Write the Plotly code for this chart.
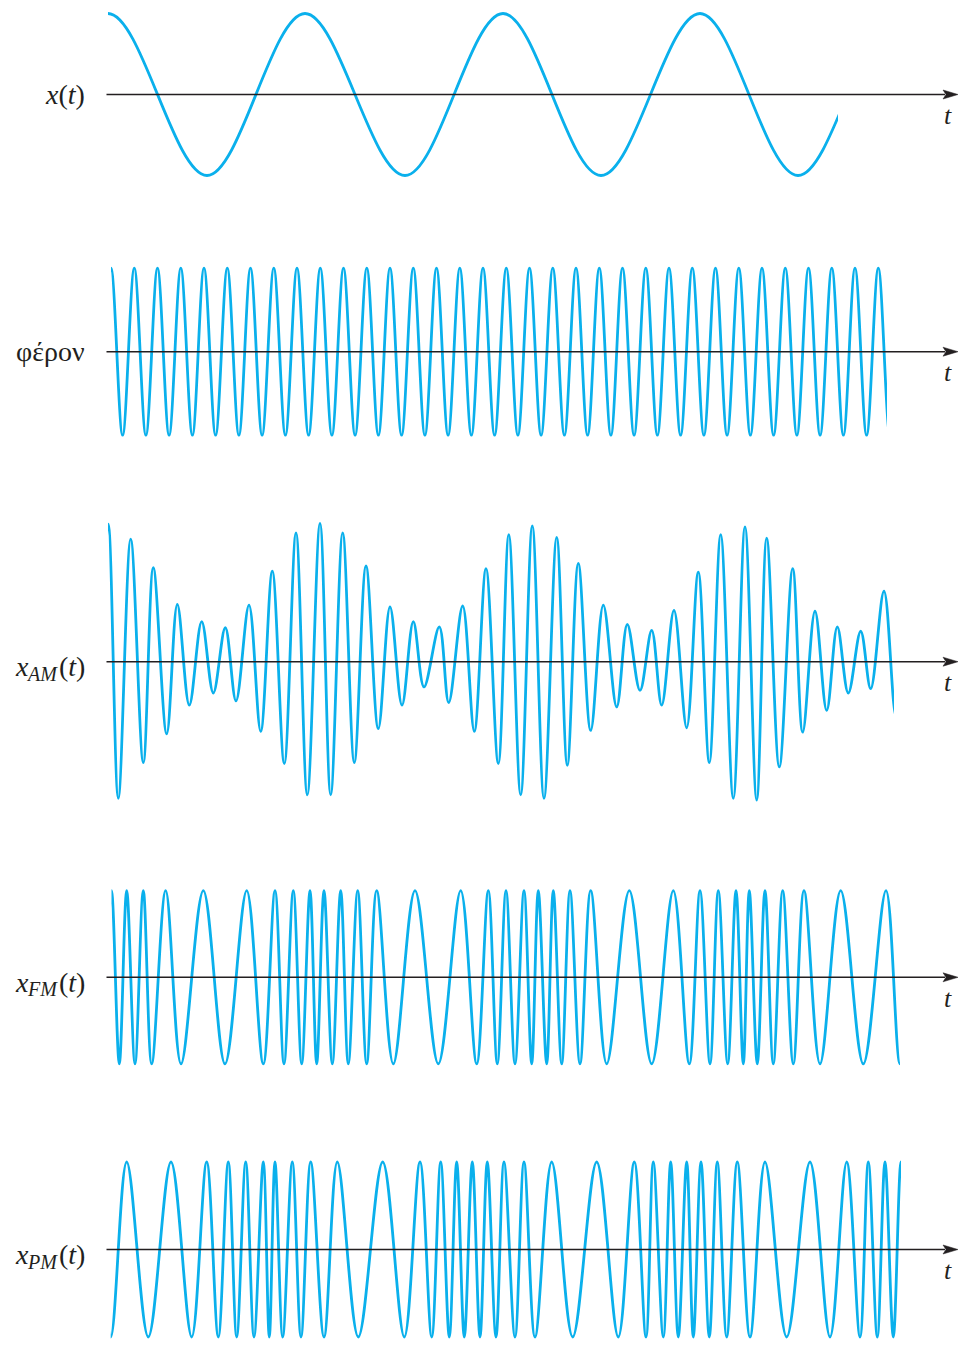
import plotly.graph_objects as go

# ---------------- data ----------------
# time t in arbitrary units (t = 0 where x(t) starts); amplitudes normalised
# each signal is given by its extrema (peak / trough times and values);
# extrema beyond each end let the curve leave its window with the right slope

# message x(t)
msg_peak_t = [0, 197, 395, 592, 789]
msg_trough_t = [-99, 99, 297, 493, 690, 887]
msg_window = [0, 730]

# carrier (φέρον)
car_peak_t = [3, 26.3, 49.5, 72.8, 96, 119.3, 142.5, 165.8, 189, 212.3, 235.5, 258.8,
              282, 305.3, 328.5, 351.8, 375, 398.3, 421.5, 444.8, 468, 491.3, 514.5,
              537.8, 561, 584.3, 607.5, 630.8, 654, 677.3, 700.5, 723.8, 747, 770.3, 793.5]
car_trough_t = [-8.6, 14.6, 37.9, 61.1, 84.4, 107.6, 130.9, 154.1, 177.4, 200.6, 223.9,
                247.1, 270.4, 293.6, 316.9, 340.1, 363.4, 386.6, 409.9, 433.1, 456.4,
                479.6, 502.9, 526.1, 549.4, 572.6, 595.9, 619.1, 642.4, 665.6, 688.9,
                712.1, 735.4, 758.6, 781.9, 805.1]
car_window = [3, 779]

# AM signal
am_peak_t = [0.3, 22.7, 45.3, 69.3, 93.7, 117.3, 141, 164.3, 188, 212, 234.7, 258, 282,
             305.3, 331.3, 354.7, 378, 400.8, 424.3, 448.7, 470.3, 495.3, 519.3, 543.7,
             566, 590.3, 612.7, 637, 658.7, 684.7, 707, 729.3, 752.7, 776, 800]
am_peak_v = [1.58, 1.41, 1.08, 0.66, 0.46, 0.39, 0.65, 1.04, 1.48, 1.59, 1.48, 1.10, 0.63,
             0.46, 0.40, 0.64, 1.07, 1.46, 1.56, 1.43, 1.13, 0.65, 0.43, 0.36, 0.59, 1.03,
             1.46, 1.55, 1.42, 1.07, 0.58, 0.40, 0.35, 0.81, 0.95]
am_trough_t = [-11.5, 10.3, 35.3, 58.7, 81.3, 105.3, 128, 152.7, 176.3, 199.3, 222.7, 246.3,
               270.3, 294, 316, 340.7, 366.3, 390.3, 412.7, 436, 459.3, 482.7, 508.7, 532,
               553.7, 578.7, 601.3, 625.3, 648.7, 671.3, 694.7, 718.7, 740.3, 762.7, 788]
am_trough_v = [-1.55, -1.57, -1.16, -0.83, -0.50, -0.36, -0.45, -0.80, -1.17, -1.53, -1.53,
               -1.16, -0.77, -0.50, -0.29, -0.47, -0.80, -1.17, -1.53, -1.57, -1.19, -0.79,
               -0.52, -0.33, -0.50, -0.76, -1.16, -1.57, -1.59, -1.21, -0.81, -0.56, -0.36,
               -0.31, -0.63]
am_window = [0, 786]

# FM signal
fm_peak_t = [3.5, 18.7, 35.3, 57.7, 95.3, 138.7, 167, 185.3, 202, 216, 232.7, 249.7, 268.7,
             307, 352.7, 380.3, 398, 416, 430.3, 445.3, 462, 482.7, 521.3, 565.3, 592,
             610.3, 628, 641.3, 657, 674.7, 696, 732.7, 778, 806]
fm_trough_t = [-4, 11.3, 27, 43.7, 73, 117, 155.3, 176, 193.7, 208.7, 224.3, 240.3, 258.7,
               285.3, 330.3, 368.7, 389.3, 407, 423.7, 438.7, 453.7, 472, 498.7, 543.7,
               581.3, 602, 619.7, 635.3, 649.3, 665.3, 685.3, 712, 755.3, 792, 820]
fm_window = [3.5, 792]

# PM signal
pm_peak_t = [-12, 18.7, 63, 98.7, 120.3, 137.7, 155.3, 167, 184.3, 202.7, 229.3, 274.7, 312,
             332.7, 348.7, 364.3, 379.3, 396, 416, 443.7, 488.7, 526.3, 545.3, 562.7,
             578.7, 593, 609.3, 629.3, 657, 702, 738.7, 760.3, 777, 793, 809]
pm_trough_t = [2.7, 40.3, 83.7, 110.3, 128.7, 146, 161.3, 174.7, 193, 216, 250.3, 296.3,
               323.7, 341.3, 356.3, 372, 388, 407, 427, 464.7, 510.3, 538, 555.3, 570.3,
               585.3, 601.3, 618.7, 642, 678.7, 722, 752, 769.3, 785.3, 801]
pm_window = [2.7, 793]

# panel labels: (main symbol, subscript, argument)
label_main = ["<i>x</i>(<i>t</i>)", "φέρον", "<i>x</i>", "<i>x</i>", "<i>x</i>"]
label_sub = [None, None, "<i>AM</i>", "<i>FM</i>", "<i>PM</i>"]
label_arg = "(<i>t</i>)"
time_label = "<i>t</i>"


def merge(pt, pv, tt, tv):
    pts = sorted(list(zip(pt, pv)) + list(zip(tt, tv)))
    return [p[0] for p in pts], [p[1] for p in pts]


series = [
    (merge(msg_peak_t, [1] * len(msg_peak_t), msg_trough_t, [-1] * len(msg_trough_t)), msg_window),
    (merge(car_peak_t, [1] * len(car_peak_t), car_trough_t, [-1] * len(car_trough_t)), car_window),
    (merge(am_peak_t, am_peak_v, am_trough_t, am_trough_v), am_window),
    (merge(fm_peak_t, [1] * len(fm_peak_t), fm_trough_t, [-1] * len(fm_trough_t)), fm_window),
    (merge(pm_peak_t, [1] * len(pm_peak_t), pm_trough_t, [-1] * len(pm_trough_t)), pm_window),
]

# ---------------- layout constants (pixels) ----------------
W, H = 961, 1347
X0 = 108            # pixel of t = 0
PX_PER_T = 1.0
centers = [94.5, 351.7, 661.7, 977.3, 1249.5]
scales = [81, 83.5, 87, 86.6, 87.5]     # px per unit amplitude
AXIS_START, AXIS_END = 106.5, 958
HEAD_LEN, HEAD_HALF = 15, 4.5
LABEL_RIGHT = 87
SUB_RIGHT = 60
MAIN_RIGHT = 31
LABEL_SIZE, SUB_SIZE, T_SIZE = 28, 20, 26
SUB_DY_MAIN, SUB_DY_SUB = 5, 12
T_LABEL_X, T_LABEL_DY = 948, 21
BLUE = "#0AB0EC"
INK = "#231F20"
FONT = "Liberation Serif"


def fx(px):
    return px / W


def fy(py):
    return 1 - py / H


def text(xp, yp, txt, size, anchor="right"):
    return dict(xref="paper", yref="paper", x=fx(xp), y=fy(yp), xanchor=anchor,
                yanchor="middle", text=txt, showarrow=False,
                font=dict(family=FONT, size=size, color=INK))


fig = go.Figure()
shapes, annotations = [], []
layout_axes = {}

for k, (((ts, vs), win), yc, s, main, sub) in enumerate(
        zip(series, centers, scales, label_main, label_sub), start=1):
    sfx = "" if k == 1 else str(k)
    half = min(150, yc - 0.5, H - yc - 0.5)
    x0p = X0 + win[0] * PX_PER_T
    x1p = X0 + win[1] * PX_PER_T
    layout_axes["xaxis" + sfx] = dict(domain=[fx(x0p), fx(x1p)], range=list(win),
                                      visible=False, fixedrange=True,
                                      anchor="y" + sfx)
    layout_axes["yaxis" + sfx] = dict(domain=[fy(yc + half), fy(yc - half)],
                                      range=[-half / s, half / s], visible=False,
                                      fixedrange=True, anchor="x" + sfx)
    fig.add_trace(go.Scatter(x=ts, y=vs, mode="lines", xaxis="x" + sfx, yaxis="y" + sfx,
                             line=dict(color=BLUE, width=2.8, shape="spline", smoothing=1),
                             hoverinfo="skip", showlegend=False))
    # time axis with arrow
    shapes.append(dict(type="line", xref="paper", yref="paper",
                       x0=fx(AXIS_START), x1=fx(AXIS_END - HEAD_LEN + 2),
                       y0=fy(yc), y1=fy(yc), line=dict(color=INK, width=1.5)))
    shapes.append(dict(type="path", xref="paper", yref="paper",
                       path=f"M {fx(AXIS_END)} {fy(yc)} L {fx(AXIS_END - HEAD_LEN)} {fy(yc - HEAD_HALF)} "
                            f"L {fx(AXIS_END - HEAD_LEN + 3)} {fy(yc)} "
                            f"L {fx(AXIS_END - HEAD_LEN)} {fy(yc + HEAD_HALF)} Z",
                       fillcolor=INK, line=dict(color=INK, width=0.5)))
    if sub is None:
        annotations.append(text(LABEL_RIGHT, yc, main, LABEL_SIZE))
    else:
        annotations.append(text(LABEL_RIGHT, yc + SUB_DY_MAIN, label_arg, LABEL_SIZE))
        annotations.append(text(SUB_RIGHT, yc + SUB_DY_SUB, sub, SUB_SIZE))
        annotations.append(text(MAIN_RIGHT, yc + SUB_DY_MAIN, main, LABEL_SIZE))
    annotations.append(text(T_LABEL_X, yc + T_LABEL_DY, time_label, T_SIZE, anchor="center"))

fig.update_layout(width=W, height=H, margin=dict(l=0, r=0, t=0, b=0),
                  paper_bgcolor="white", plot_bgcolor="rgba(0,0,0,0)",
                  shapes=shapes, annotations=annotations, showlegend=False,
                  **layout_axes)

fig.write_html("out.html", config={"displayModeBar": False, "staticPlot": True},
               post_script="document.body.style.margin='0';")
